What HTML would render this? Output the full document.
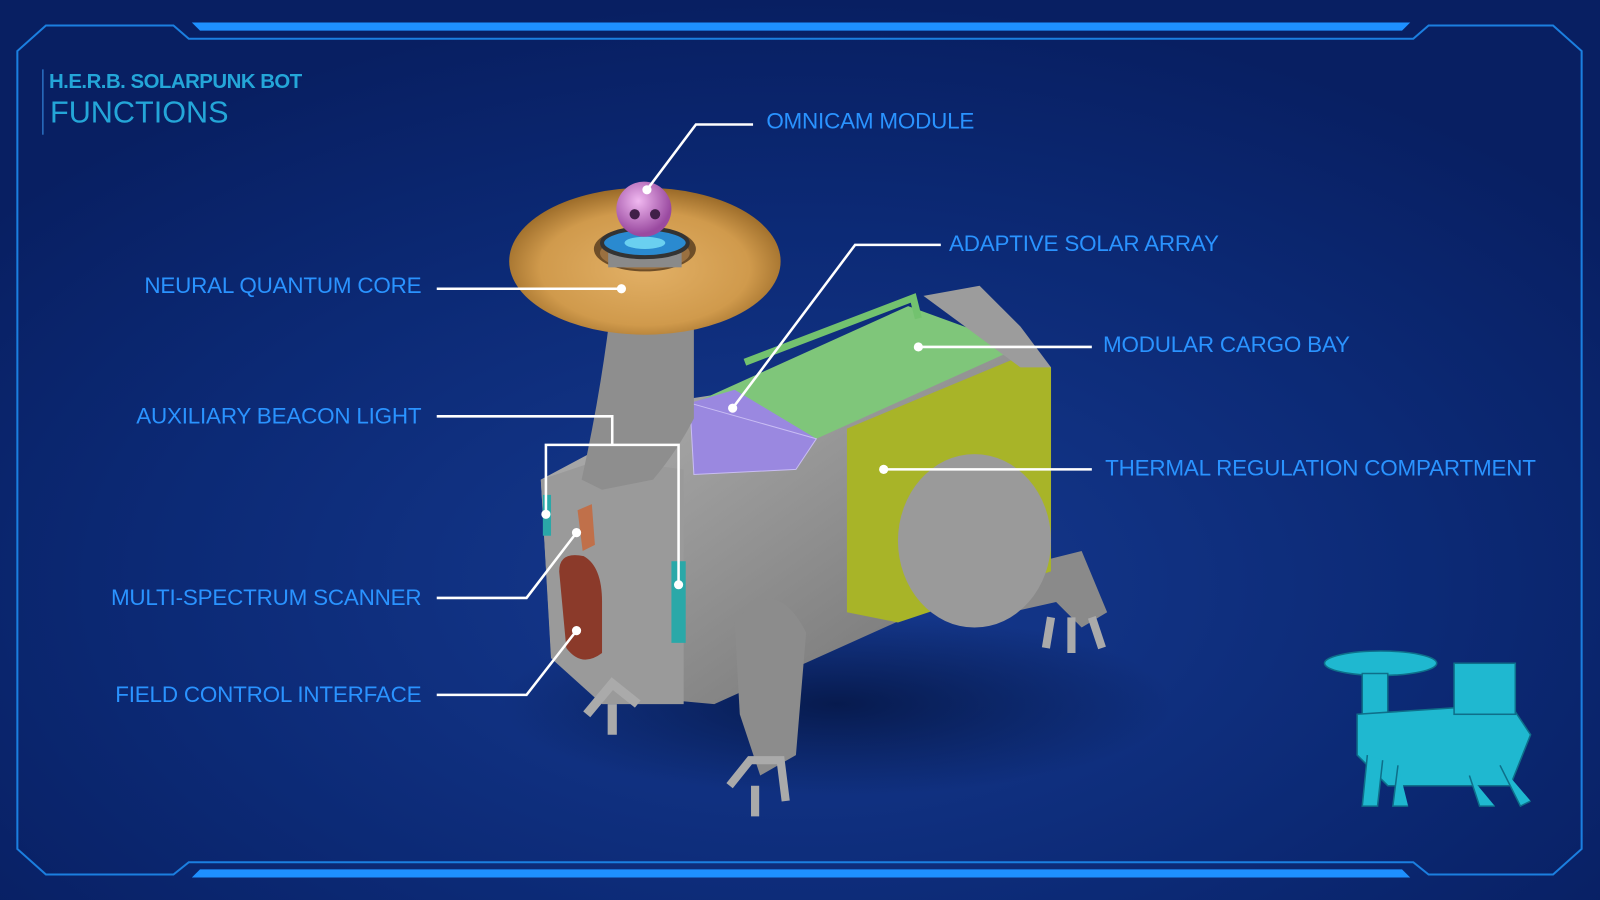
<!DOCTYPE html>
<html><head><meta charset="utf-8"><style>
html,body{margin:0;padding:0;background:#07205e;overflow:hidden}
svg{display:block}
text{font-family:"Liberation Sans",sans-serif}
</style></head><body>
<svg width="1600" height="900" viewBox="0 0 1568 882" preserveAspectRatio="none" xmlns="http://www.w3.org/2000/svg">
<defs>
<radialGradient id="bg" cx="0.5" cy="0.65" r="0.65">
<stop offset="0" stop-color="#163a90"/><stop offset="0.6" stop-color="#0c2a76"/><stop offset="1" stop-color="#081f62"/>
</radialGradient>
<radialGradient id="tor" cx="0.5" cy="0.55" r="0.55"><stop offset="0" stop-color="#e2b066"/><stop offset="0.7" stop-color="#d09a4c"/><stop offset="1" stop-color="#9a6a28"/></radialGradient>
<radialGradient id="sph" cx="0.4" cy="0.35" r="0.6"><stop offset="0" stop-color="#f0b8f0"/><stop offset="1" stop-color="#9a4aa0"/></radialGradient>
<linearGradient id="gray" x1="0" y1="0" x2="1" y2="1"><stop offset="0" stop-color="#b4b4b4"/><stop offset="1" stop-color="#6e6e6e"/></linearGradient>
<radialGradient id="shd" cx="0.5" cy="0.5" r="0.5"><stop offset="0" stop-color="#041440" stop-opacity="0.8"/><stop offset="1" stop-color="#041440" stop-opacity="0"/></radialGradient>
</defs>
<rect width="1568" height="882" fill="url(#bg)"/>
<g fill="none" stroke="#1b7fe0" stroke-width="2">
<path d="M45 25 L170 25 L185 38 L1385 38 L1400 25 L1522 25 L1550 50 L1550 832 L1522 857 L1400 857 L1385 845 L185 845 L170 857 L45 857 L17 832 L17 50 Z"/>
</g>
<path d="M188 22 L1382 22 L1374 30 L196 30 Z" fill="#1e90ff"/>
<path d="M188 860 L1382 860 L1374 852 L196 852 Z" fill="#1e90ff"/>
<line x1="42" y1="68" x2="42" y2="132" stroke="#2a6fc0" stroke-width="1.5"/>
<text x="48" y="86" font-size="20" font-weight="bold" fill="#24a6d8" letter-spacing="-0.5">H.E.R.B. <tspan>SOLARPUNK BOT</tspan></text>
<text x="49" y="120" font-size="30" fill="#24a6d8">FUNCTIONS</text>

<ellipse cx="820" cy="690" rx="330" ry="90" fill="url(#shd)"/>

<path d="M980 560 L1060 540 L1085 600 L1060 615 L1035 590 L990 600 Z" fill="#8a8a8a"/>
<path d="M1030 605 l-5 30 M1050 605 l0 35 M1070 605 l10 30" stroke="#aaa" stroke-width="8"/>
<path d="M530 470 L680 390 L1010 340 L1030 360 L1030 560 L900 600 L700 690 L590 680 L540 640 Z" fill="url(#gray)"/>
<path d="M830 420 L1010 345 L1030 360 L1030 560 L880 610 L830 600 Z" fill="#a8b428"/>
<path d="M680 395 L890 300 L1000 340 L800 430 Z" fill="#7fc67a"/>
<path d="M676 395 L720 382 L800 430 L780 460 L680 465 Z" fill="#9a88e0"/>
<path d="M676 395 L800 430 L780 460 L680 465 Z" fill="none" stroke="#c9bdf4" stroke-width="1"/>
<path d="M730 355 L895 292 L900 312" fill="none" stroke="#73c26f" stroke-width="7"/>
<path d="M905 290 L960 280 L1000 320 L1030 360 L1000 360 Z" fill="#9c9c9c"/>
<path d="M530 470 L590 450 L670 460 L670 690 L590 690 L540 645 Z" fill="#9a9a9a"/>
<path d="M548 560 Q548 540 572 545 Q590 555 590 590 L590 640 Q570 655 555 635 Z" fill="#8b3a2a"/>
<rect x="658" y="550" width="14" height="80" fill="#2aa8a8"/>
<rect x="532" y="485" width="8" height="40" fill="#2aa8a8"/>
<path d="M566 500 l14 -6 l3 40 l-12 6 Z" fill="#c0704a"/>
<path d="M600 290 Q590 380 570 470 L590 480 L640 470 Q665 440 680 410 L680 300 Z" fill="#8e8e8e"/>
<ellipse cx="955" cy="530" rx="75" ry="85" fill="#9a9a9a"/>
<path d="M720 610 Q760 560 790 620 L780 740 L745 760 L725 700 Z" fill="#8c8c8c"/>
<path d="M715 770 l20 -25 l30 0 l5 40 M740 770 l0 30" stroke="#aaa" stroke-width="8" fill="none"/>
<path d="M575 700 l25 -30 l25 20 M600 690 l0 30" stroke="#aaa" stroke-width="9" fill="none"/>
<!-- torus -->
<ellipse cx="632" cy="256" rx="133" ry="72" fill="url(#tor)"/>
<ellipse cx="632" cy="244" rx="50" ry="22" fill="#6e4e28"/>
<ellipse cx="632" cy="248" rx="44" ry="16" fill="#9a7040"/>
<rect x="596" y="240" width="72" height="22" fill="#8a8a8a"/>
<ellipse cx="632" cy="238" rx="42" ry="14" fill="#2a8ad0" stroke="#333" stroke-width="4"/>
<ellipse cx="632" cy="238" rx="20" ry="6" fill="#6ad0f0"/>
<circle cx="631" cy="205" r="27" fill="url(#sph)"/>
<circle cx="622" cy="210" r="5" fill="#402048"/><circle cx="642" cy="210" r="5" fill="#402048"/>

<g stroke="#fff" stroke-width="2.5" fill="none">
<path d="M634 186 L682 122 L738 122"/>
<path d="M428 283 L609 283"/>
<path d="M718 400 L838 240 L922 240"/>
<path d="M900 340 L1070 340"/>
<path d="M866 460 L1070 460"/>
<path d="M428 408 L600 408 L600 436 L535 436 L535 504 M600 436 L665 436 L665 573"/>
<path d="M428 586 L516 586 L565 522"/>
<path d="M428 681 L516 681 L565 618"/>
</g>
<g fill="#fff">
<circle cx="634" cy="186" r="4.5"/><circle cx="609" cy="283" r="4.5"/><circle cx="718" cy="400" r="4.5"/>
<circle cx="900" cy="340" r="4.5"/><circle cx="866" cy="460" r="4.5"/><circle cx="535" cy="504" r="4.5"/>
<circle cx="665" cy="573" r="4.5"/><circle cx="565" cy="522" r="4.5"/><circle cx="565" cy="618" r="4.5"/>
</g>
<g font-size="22" fill="#2a93ff" letter-spacing="-0.2">
<text x="751" y="126">OMNICAM MODULE</text>
<text x="930" y="246">ADAPTIVE SOLAR ARRAY</text>
<text x="1081" y="345">MODULAR CARGO BAY</text>
<text x="1083" y="466">THERMAL REGULATION COMPARTMENT</text>
<text x="413" y="287" text-anchor="end">NEURAL QUANTUM CORE</text>
<text x="413" y="415" text-anchor="end">AUXILIARY BEACON LIGHT</text>
<text x="413" y="593" text-anchor="end">MULTI-SPECTRUM SCANNER</text>
<text x="413" y="688" text-anchor="end">FIELD CONTROL INTERFACE</text>
</g>

<g fill="#1fb8d0" stroke="#0e6f8a" stroke-width="1.5">
<ellipse cx="1353" cy="650" rx="55" ry="12"/>
<path d="M1335 660 L1360 660 L1360 730 L1335 730 Z"/>
<path d="M1330 700 L1480 690 L1500 720 L1480 770 L1360 770 L1330 740 Z"/>
<rect x="1425" y="650" width="60" height="50"/>
<path d="M1340 740 l-5 50 l15 0 l5 -45 M1370 750 l-5 40 l15 0 M1440 760 l10 30 l15 0 M1470 750 l20 40 l10 -5"/>
</g>
</svg>
</body></html>
